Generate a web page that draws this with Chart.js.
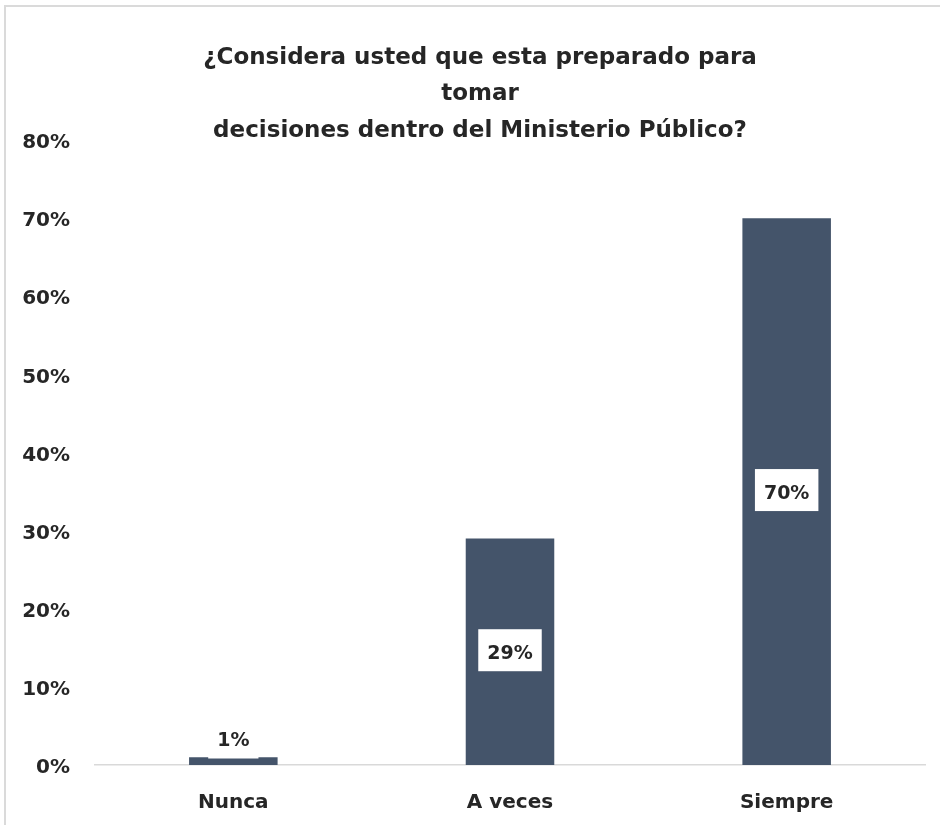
<!DOCTYPE html>
<html lang="es">
<head>
<meta charset="utf-8">
<title>Toma de decisiones</title>
<script src="https://cdn.jsdelivr.net/npm/chart.js@4.4.1/dist/chart.umd.min.js"></script>
<style>
    html, body { margin: 0; padding: 0; background: #fff; }
    #wrap { position: relative; width: 940px; height: 825px; }
    #frame {
        position: absolute; left: 4px; top: 5px; right: 0; bottom: 0;
        border-left: 2px solid #dadada; border-top: 2px solid #dadada;
        pointer-events: none;
    }
    #chart { position: absolute; left: 0; top: 0; }
</style>
</head>
<body>
<div id="wrap">
    <canvas id="chart" width="940" height="825"></canvas>
    <div id="frame"></div>
</div>
<script>
const titleLines = [
    '¿Considera usted que esta preparado para',
    'tomar',
    'decisiones dentro del Ministerio Público?'
];
const categories = ['Nunca', 'A veces', 'Siempre'];
const percentages = [1, 29, 70];
const axisMax = 80;
const axisStep = 10;

const FONT = "'DejaVu Sans', 'Liberation Sans', sans-serif";
const TEXT_COLOR = '#262626';
const BAR_COLOR = '#44546a';

// Three-line title, centred a little right of the plot's middle
const titleBlock = {
    id: 'titleBlock',
    afterDraw(chart) {
        const ctx = chart.ctx;
        ctx.save();
        ctx.font = `bold 23px ${FONT}`;
        ctx.fillStyle = TEXT_COLOR;
        ctx.textAlign = 'center';
        ctx.textBaseline = 'middle';
        titleLines.forEach((line, i) => {
            ctx.fillText(line, 480, 58 + i * 36.5);
        });
        ctx.restore();
    }
};

// White boxed value labels, centred in each bar (lifted above the baseline for short bars)
const valueBoxes = {
    id: 'valueBoxes',
    afterDatasetsDraw(chart) {
        const ctx = chart.ctx;
        const meta = chart.getDatasetMeta(0);
        ctx.save();
        ctx.font = `bold 19px ${FONT}`;
        ctx.textAlign = 'center';
        ctx.textBaseline = 'middle';
        meta.data.forEach((bar, i) => {
            const label = percentages[i] + '%';
            const w = ctx.measureText(label).width + 18;
            const h = 42;
            const mid = (bar.y + bar.base) / 2 + 2;
            const ty = Math.min(mid, bar.base - 24);
            const by = ty - 3.5;
            ctx.fillStyle = '#ffffff';
            ctx.fillRect(bar.x - w / 2, by - h / 2, w, h);
            ctx.fillStyle = TEXT_COLOR;
            ctx.fillText(label, bar.x, ty);
        });
        ctx.restore();
    }
};

const ctx = document.getElementById('chart').getContext('2d');
new Chart(ctx, {
    type: 'bar',
    data: {
        labels: categories,
        datasets: [{
            data: percentages,
            backgroundColor: BAR_COLOR,
            borderWidth: 0,
            categoryPercentage: 1,
            barPercentage: 0.32
        }]
    },
    options: {
        responsive: false,
        animation: false,
        layout: { padding: { left: 22, right: 15, top: 140, bottom: 10 } },
        plugins: {
            legend: { display: false },
            tooltip: { enabled: false },
            title: { display: false }
        },
        scales: {
            x: {
                grid: { display: false, drawTicks: false },
                border: { display: true, color: '#d9d9d9', width: 1.5 },
                ticks: {
                    color: TEXT_COLOR,
                    padding: 26,
                    font: { family: FONT, size: 20, weight: 'bold' }
                },
                afterFit: scale => { scale.height = 50; }
            },
            y: {
                min: 0,
                max: axisMax,
                grid: { display: false, drawTicks: false },
                border: { display: false },
                ticks: {
                    stepSize: axisStep,
                    padding: 25,
                    labelOffset: 3,
                    color: TEXT_COLOR,
                    font: { family: FONT, size: 20, weight: 'bold' },
                    callback: v => v + '%'
                },
                afterFit: scale => { scale.width = 73; }
            }
        }
    },
    plugins: [titleBlock, valueBoxes]
});
</script>
</body>
</html>
